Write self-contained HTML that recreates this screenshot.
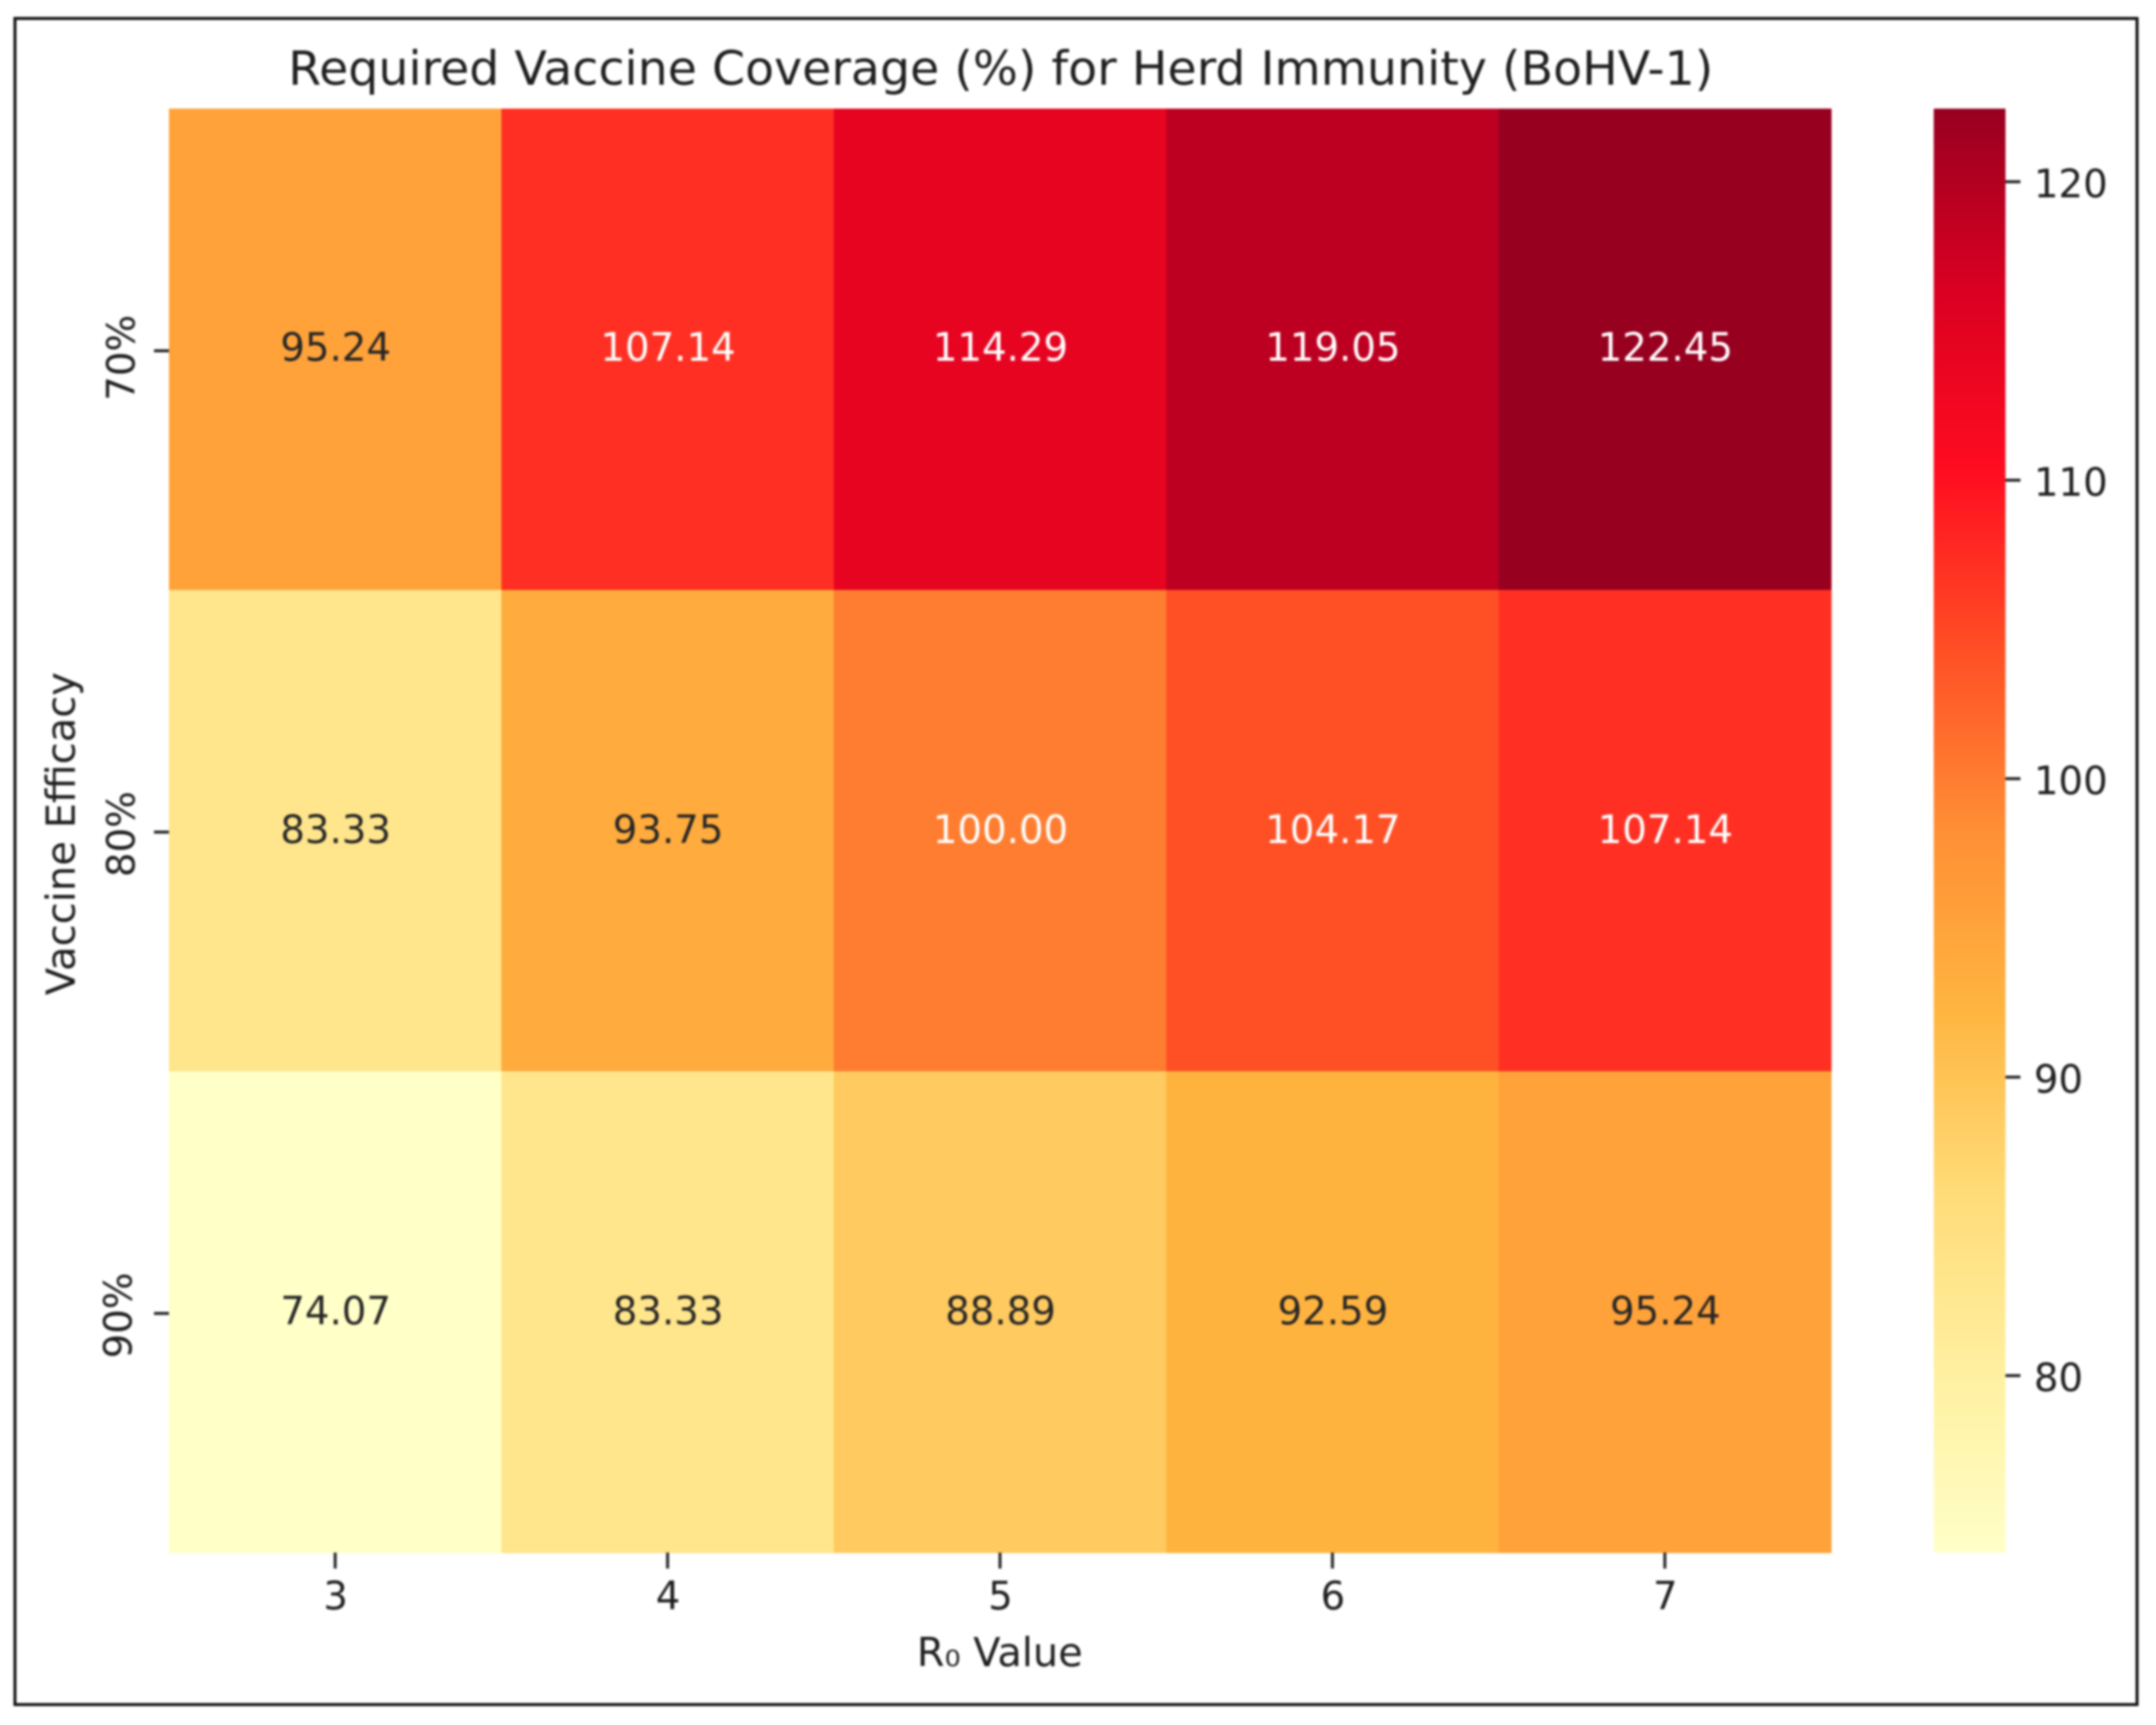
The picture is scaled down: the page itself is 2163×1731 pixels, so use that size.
<!DOCTYPE html>
<html lang="en">
<head>
<meta charset="utf-8">
<title>Required Vaccine Coverage Heatmap</title>
<style>
  html, body { margin: 0; padding: 0; background: #fff; }
  svg { display: block; filter: blur(1px); }
  text { font-family: "DejaVu Sans", "Liberation Sans", sans-serif; fill: #1f1f1f; }
</style>
</head>
<body>
<svg id="chart" xmlns="http://www.w3.org/2000/svg" width="2163" height="1731" viewBox="0 0 2163 1731">
  <rect x="0" y="0" width="2163" height="1731" fill="#ffffff"/>
  <rect x="15" y="18.5" width="2129" height="1692" fill="none" stroke="#111111" stroke-width="3"/>
  <text x="1004" y="85" font-size="47.6" text-anchor="middle">Required Vaccine Coverage (%) for Herd Immunity (BoHV-1)</text>
  <text x="1003" y="1672" font-size="40" text-anchor="middle">R₀ Value</text>
  <text transform="translate(75 836.5) rotate(-90)" font-size="40.2" text-anchor="middle">Vaccine Efficacy</text>
  <g id="cells"></g>
  <g id="xticks"></g>
  <g id="yticks"></g>
  <g id="cbar"></g>
</svg>
<script>
const r0Categories = ["3", "4", "5", "6", "7"];
const efficacyCategories = ["70%", "80%", "90%"];
const coverage70 = [95.24, 107.14, 114.29, 119.05, 122.45];
const coverage80 = [83.33, 93.75, 100.00, 104.17, 107.14];
const coverage90 = [74.07, 83.33, 88.89, 92.59, 95.24];
const colorbarTicks = [120, 110, 100, 90, 80];
const colorStops = ["#ffffc8", "#fff0a0", "#ffdc78", "#ffb540", "#ff8f35", "#ff4f25", "#ff0c20", "#da0022", "#980020"];
const coverageRows = [coverage70, coverage80, coverage90];

const plotLeft = 169.5, plotRight = 1837, plotTop = 109, plotBottom = 1558;
const cbarLeft = 1940, cbarRight = 2012;
const tickFont = 38.8;
const allValues = coverageRows.flat();
const vMin = Math.min(...allValues);
const vMax = Math.max(...allValues);
const svgNS = "http://www.w3.org/2000/svg";

function bandX(i) { return plotLeft + i * (plotRight - plotLeft) / r0Categories.length; }
function bandY(j) { return plotTop + j * (plotBottom - plotTop) / efficacyCategories.length; }
function cbarY(v) { return plotBottom - (v - vMin) / (vMax - vMin) * (plotBottom - plotTop); }
function hexToRgb(h) { return [1, 3, 5].map(function (k) { return parseInt(h.slice(k, k + 2), 16); }); }
function colorAt(v) {
  const t = Math.max(0, Math.min(1, (v - vMin) / (vMax - vMin))) * (colorStops.length - 1);
  const k = Math.min(Math.floor(t), colorStops.length - 2);
  const a = hexToRgb(colorStops[k]), b = hexToRgb(colorStops[k + 1]), f = t - k;
  return "rgb(" + a.map(function (c, n) { return Math.round(c + (b[n] - c) * f); }).join(",") + ")";
}
function make(tag, attrs, parent) {
  const el = document.createElementNS(svgNS, tag);
  Object.keys(attrs).forEach(function (k) { el.setAttribute(k, attrs[k]); });
  parent.appendChild(el);
  return el;
}

const cellsGroup = document.getElementById("cells");
const xGroup = document.getElementById("xticks");
const yGroup = document.getElementById("yticks");
const cbarGroup = document.getElementById("cbar");

coverageRows.forEach(function (row, j) {
  row.forEach(function (v, i) {
    const x0 = bandX(i), x1 = bandX(i + 1), y0 = bandY(j), y1 = bandY(j + 1);
    const cell = make("rect", { x: x0, y: y0, width: x1 - x0 + 0.5, height: y1 - y0 + 0.5, fill: colorAt(v) }, cellsGroup);
    
    
    const label = make("text", { x: (x0 + x1) / 2 + 0.5, y: (y0 + y1) / 2 + 12 - (j === 0 ? 0.5 : -0.5), "font-size": tickFont, "text-anchor": "middle" }, cellsGroup);
    
    
    label.style.fill = v >= 100 ? "#ffffff" : "#262626";
    label.textContent = v.toFixed(2);
  });
});

r0Categories.forEach(function (c, i) {
  const x = (bandX(i) + bandX(i + 1)) / 2;
  const tick = make("line", { x1: x, x2: x, y1: plotBottom, y2: plotBottom + 16, stroke: "#262626", "stroke-width": 3 }, xGroup);
  
  
  const label = make("text", { x: x + 0.5, y: 1615, "font-size": tickFont, "text-anchor": "middle" }, xGroup);
  
  
  label.textContent = c;
});

efficacyCategories.forEach(function (c, j) {
  const y = (bandY(j) + bandY(j + 1)) / 2 + 1.5;
  const tick = make("line", { x1: plotLeft - 15, x2: plotLeft, y1: y, y2: y, stroke: "#262626", "stroke-width": 3 }, yGroup);
  
  
  const labelY = y + (j === 0 ? 7 : 2);
  const labelX = j === 2 ? 132 : 135;
  const label = make("text", { transform: "translate(" + labelX + " " + labelY + ") rotate(-90)", "font-size": tickFont, "text-anchor": "middle" }, yGroup);
  
  
  label.textContent = c;
});

const defs = make("defs", {}, cbarGroup);
const gradient = make("linearGradient", { id: "cbarGradient", x1: 0, y1: 1, x2: 0, y2: 0 }, defs);
colorStops.forEach(function (c, k) {
  make("stop", { offset: k / (colorStops.length - 1), "stop-color": c }, gradient);
});
const cbarBody = make("rect", { x: cbarLeft, y: plotTop, width: cbarRight - cbarLeft, height: plotBottom - plotTop, fill: "url(#cbarGradient)" }, cbarGroup);



colorbarTicks.forEach(function (v) {
  const y = cbarY(v);
  const tick = make("line", { x1: cbarRight, x2: cbarRight + 15, y1: y, y2: y, stroke: "#262626", "stroke-width": 3 }, cbarGroup);
  
  
  const label = make("text", { x: 2040.5, y: y + 15.5, "font-size": tickFont }, cbarGroup);
  
  
  label.textContent = String(v);
});
</script>
</body>
</html>
